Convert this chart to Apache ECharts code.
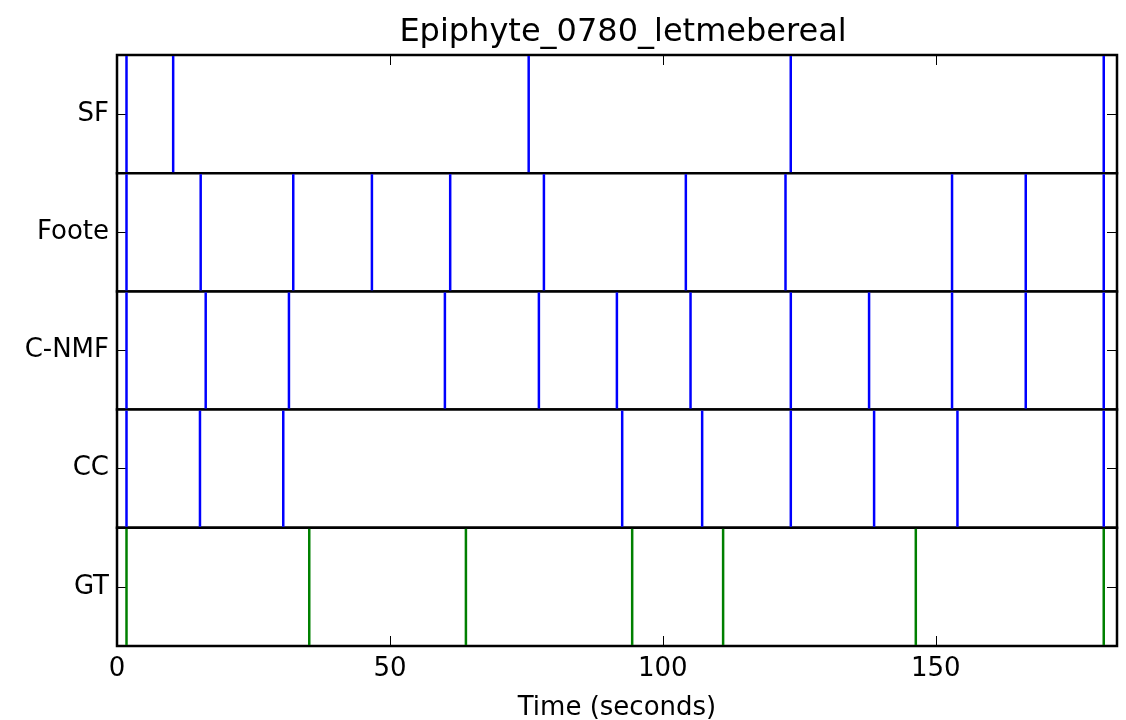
<!DOCTYPE html>
<html>
<head>
<meta charset="utf-8">
<script src="https://cdn.jsdelivr.net/npm/echarts@6/dist/echarts.min.js"></script>
<style>html,body{margin:0;padding:0;background:#fff}#c{width:1126px;height:720px}</style>
</head>
<body>
<div id="c"></div>
<script>
const titleText = "Epiphyte_0780_letmebereal";
const xLabel = "Time (seconds)";
const rowNames = ["SF", "Foote", "C-NMF", "CC", "GT"];
const xMin = 0, xMax = 183.2, xInterval = 50;

const SF = [1.74, 10.29, 75.42, 123.43, 180.77];
const Foote = [1.74, 15.33, 32.29, 46.70, 61.04, 78.21, 104.21, 122.47, 152.98, 166.48, 180.77];
const CNMF = [1.74, 16.25, 31.50, 60.07, 77.29, 91.58, 105.07, 123.44, 137.78, 152.98, 166.48, 180.77];
const CC = [1.74, 15.20, 30.46, 92.55, 107.20, 123.44, 138.70, 153.97, 180.77];
const GT = [1.74, 35.22, 63.92, 94.38, 111.04, 146.34, 180.77];

const rows = [SF, Foote, CNMF, CC, GT];
const rowColors = ["#0000ff", "#0000ff", "#0000ff", "#0000ff", "#008000"];

const FONT = "DejaVu Sans";
const top0 = 55, rowH = 118.2, leftPx = 117, rightPx = 9;

const grids = [], xAxes = [], yAxes = [], series = [];
rows.forEach((vals, i) => {
  grids.push({
    left: leftPx, right: rightPx, top: top0 + i * rowH, height: rowH,
    outerBoundsMode: "none", containLabel: false,
    show: true, borderColor: "#000", borderWidth: 2.5, backgroundColor: "#fff"
  });
  const isTop = i === 0, isBottom = i === rows.length - 1;
  xAxes.push({
    gridIndex: i, type: "value", min: xMin, max: xMax, interval: xInterval,
    position: isTop ? "top" : "bottom",
    axisLine: { show: false },
    splitLine: { show: false },
    axisTick: { show: isTop || isBottom, inside: true, length: 10, lineStyle: { color: "#000", width: 1 } },
    axisLabel: { show: isBottom, color: "#000", fontSize: 26, fontFamily: FONT, margin: 10,
      showMaxLabel: false },
    name: isBottom ? xLabel : "",
    nameLocation: "middle", nameGap: 49,
    nameTextStyle: { color: "#000", fontSize: 26, fontFamily: FONT }
  });
  yAxes.push({
    gridIndex: i, type: "category", data: [rowNames[i]], position: "left",
    axisLine: { show: false },
    axisTick: { show: true, inside: true, alignWithLabel: true, length: 10, lineStyle: { color: "#000", width: 1 } },
    axisLabel: { color: "#000", fontSize: 26, fontFamily: FONT, margin: 8 },
    splitLine: { show: false }
  });
  yAxes.push({
    gridIndex: i, type: "category", data: [rowNames[i]], position: "right",
    axisLine: { show: false },
    axisTick: { show: true, inside: true, alignWithLabel: true, length: 10, lineStyle: { color: "#000", width: 1 } },
    axisLabel: { show: false },
    splitLine: { show: false }
  });
  const color = rowColors[i];
  series.push({
    type: "custom", xAxisIndex: i, yAxisIndex: i * 2,
    data: vals.map(t => [t, 0]),
    encode: { x: 0, y: 1 },
    silent: true,
    renderItem: function (params, api) {
      const pt = api.coord([api.value(0), api.value(1)]);
      const cs = params.coordSys;
      return {
        type: "line",
        shape: { x1: pt[0], y1: cs.y + 1, x2: pt[0], y2: cs.y + cs.height - 1 },
        style: { stroke: color, lineWidth: 2.5 }
      };
    }
  });
});

const chart = echarts.init(document.getElementById("c"), null, { renderer: "canvas" });
chart.setOption({
  animation: false,
  backgroundColor: "#fff",
  title: {
    text: titleText, left: 618, top: 12, textAlign: "center",
    textStyle: { color: "#000", fontSize: 32, fontWeight: "normal", fontFamily: FONT }
  },
  grid: grids, xAxis: xAxes, yAxis: yAxes, series: series
});
</script>
</body>
</html>
